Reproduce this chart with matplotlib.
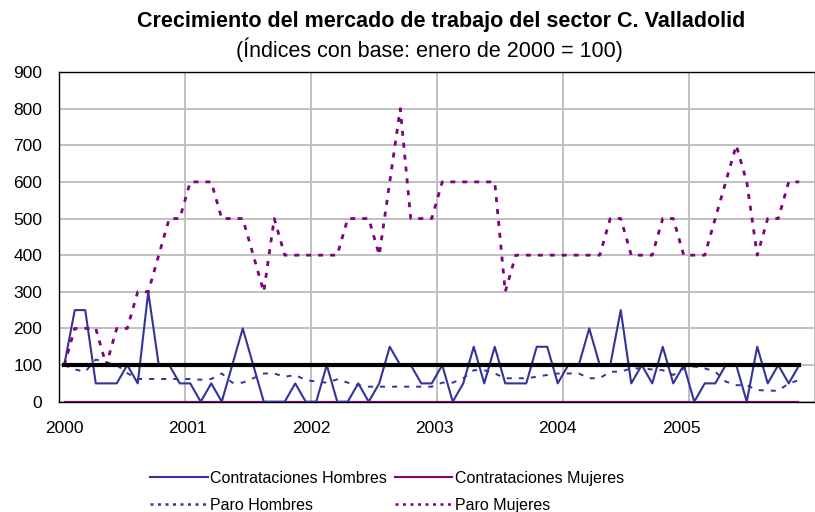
import matplotlib

matplotlib.use("Agg")

import matplotlib.pyplot as plt
import numpy as np
from matplotlib.lines import Line2D

plt.rcParams["font.family"] = ["Liberation Sans", "DejaVu Sans"]

# Monthly index values, January 2000 = 100 (Jan 2000 .. Nov 2005)
contrataciones_hombres = [
    100, 250, 250, 50, 50, 50, 100, 50, 300, 100, 100, 50,
    50, 0, 50, 0, 100, 200, 100, 0, 0, 0, 50, 0,
    0, 100, 0, 0, 50, 0, 50, 150, 100, 100, 50, 50,
    100, 0, 50, 150, 50, 150, 50, 50, 50, 150, 150, 50,
    100, 100, 200, 100, 100, 250, 50, 100, 50, 150, 50, 100,
    0, 50, 50, 100, 100, 0, 150, 50, 100, 50, 100,
]
contrataciones_mujeres = [0] * 71
paro_hombres = [
    100, 88, 82, 115, 108, 100, 78, 62, 62, 62, 62, 62,
    62, 60, 62, 77, 52, 52, 64, 77, 77, 68, 73, 59,
    55, 52, 61, 52, 45, 41, 41, 41, 41, 41, 41, 41,
    52, 52, 64, 86, 86, 77, 64, 64, 64, 68, 73, 77,
    77, 77, 64, 64, 82, 82, 91, 91, 88, 86, 73, 91,
    96, 91, 82, 55, 45, 45, 32, 30, 30, 50, 59,
]
paro_mujeres = [
    100, 200, 200, 200, 100, 200, 200, 300, 300, 400, 500, 500,
    600, 600, 600, 500, 500, 500, 400, 300, 500, 400, 400, 400,
    400, 400, 400, 500, 500, 500, 400, 600, 800, 500, 500, 500,
    600, 600, 600, 600, 600, 600, 300, 400, 400, 400, 400, 400,
    400, 400, 400, 400, 500, 500, 400, 400, 400, 500, 500, 400,
    400, 400, 500, 600, 700, 600, 400, 500, 500, 600, 600,
]
base_line = [100] * 71
year_labels = ["2000", "2001", "2002", "2003", "2004", "2005"]

BLUE = "#333399"
PURPLE = "#800080"

W, H = 815, 512
fig = plt.figure(figsize=(W / 100, H / 100), dpi=100)
left_px, right_px, top_px, bottom_px = 59, 815, 72, 401.7
ax = fig.add_axes([left_px / W, 1 - bottom_px / H,
                   (right_px - left_px) / W, (bottom_px - top_px) / H])

x = np.arange(len(paro_mujeres))
month_px = 130 / 12

ax.plot(x, contrataciones_mujeres, color=PURPLE, lw=1.6, solid_capstyle="butt", zorder=3)
ax.plot(x, contrataciones_hombres, color=BLUE, lw=1.5, zorder=3)
ax.plot(x, paro_hombres, color=BLUE, lw=1.4, dashes=(2.6, 3.6), zorder=3)
ax.plot(x, paro_mujeres, color=PURPLE, lw=2.0, dashes=(1.8, 2.5), zorder=3)
ax.plot(x, base_line, color="black", lw=3.0, zorder=4)

ax.set_ylim(0, 900)
ax.set_xlim(-0.5, (right_px - left_px) / month_px - 0.5)
ax.set_yticks(range(0, 901, 100))
ax.set_xticks([-0.5 + 12 * k for k in range(0, 7)])
ax.set_xticklabels([])
ax.set_xticks([11.75 * k + 0.01 for k in range(len(year_labels))], minor=True)
ax.set_xticklabels(year_labels, minor=True)
ax.tick_params(axis="both", which="both", length=0, labelsize=12.5, colors="black")
ax.tick_params(axis="x", which="minor", pad=14)
ax.tick_params(axis="y", pad=12)
ax.grid(True, which="major", color="#C0C0C0", lw=1.4)
ax.set_axisbelow(True)
for side in ["left", "top", "bottom"]:
    ax.spines[side].set_color("black")
    ax.spines[side].set_linewidth(1.0)
ax.spines["right"].set_visible(False)

fig.text(441 / W, 1 - 22 / H, "Crecimiento del mercado de trabajo del sector C. Valladolid",
         ha="center", va="center", fontsize=15.5, fontweight="bold")
fig.text(429 / W, 1 - 50 / H, "(Índices con base: enero de 2000 = 100)",
         ha="center", va="center", fontsize=15.5)

handles = [
    Line2D([], [], color=BLUE, lw=1.5),
    Line2D([], [], color=BLUE, lw=1.8, dashes=(1.2, 1.8)),
    Line2D([], [], color=PURPLE, lw=1.5),
    Line2D([], [], color=PURPLE, lw=1.8, dashes=(1.2, 1.8)),
]
labels = ["Contrataciones Hombres", "Paro Hombres",
          "Contrataciones Mujeres", "Paro Mujeres"]
fig.legend(handles, labels, ncol=2, loc="upper left",
           bbox_to_anchor=(150 / W, 1 - 471 / H), frameon=False,
           fontsize=11.5, handlelength=3.6, handletextpad=0.15,
           columnspacing=0.5, labelspacing=0.75, borderpad=0, borderaxespad=0)

fig.savefig("out.png", dpi=100)
